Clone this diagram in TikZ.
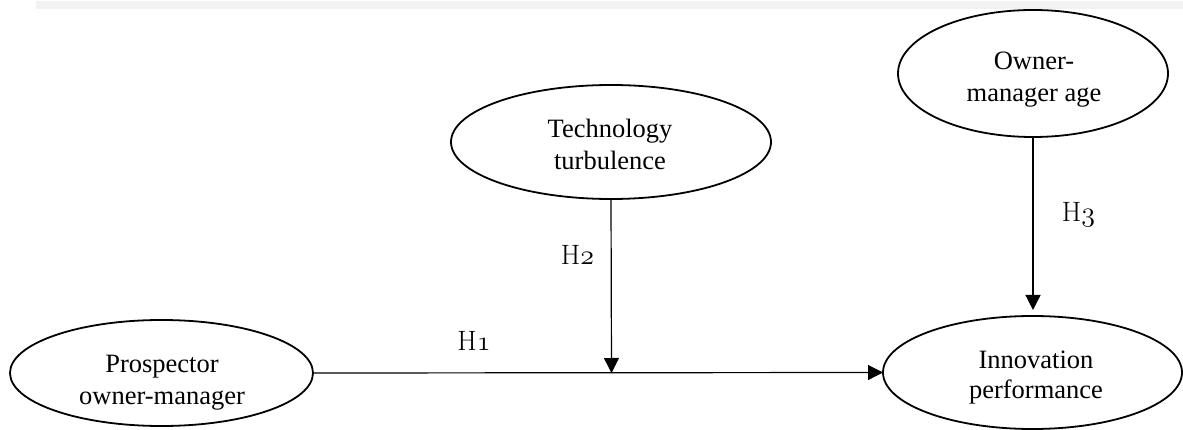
\RequirePackage{fix-cm}
\documentclass[tikz,border=0pt]{standalone}
\usepackage{fontspec}
\newfontfamily\tnrfont{Liberation Serif}
\usetikzlibrary{shapes.geometric,arrows.meta}
\definecolor{bandgray}{HTML}{F2F2F2}
\tikzset{
  oval/.style={ellipse, draw, line width=1.8pt, inner sep=0pt, outer sep=0pt},
  otext/.style={inner sep=0pt, align=center},
  hlabel/.style={font=\fontsize{28}{32}\selectfont, inner sep=0pt, anchor=base},
  link/.style={line width=1.2pt, -{Triangle[length=15pt,width=15pt]}},
}
\begin{document}
\begin{tikzpicture}[x=1pt,y=-1pt]
  \useasboundingbox (0,0) rectangle (1183,430);
  \fill[bandgray] (36,1) rectangle (1183,9);

  % ellipses
  \node[oval, minimum width=303pt, minimum height=106pt] (prosp) at (161.5,373) {};
  \node[oval, minimum width=299pt, minimum height=113pt] (innov) at (1032.5,372.5) {};
  \node[oval, minimum width=320pt, minimum height=114pt] (tech) at (611,142) {};
  \node[oval, minimum width=270pt, minimum height=127pt] (owner) at (1033,73.5) {};

  % ellipse texts
  \node[otext, font=\tnrfont\fontsize{26.5}{32}\selectfont] (prospT) at (162,383) {Prospector\\owner-manager};
  \node[otext, font=\tnrfont\fontsize{26.5}{30}\selectfont] (innovT) at (1036,377.5) {Innovation\\performance};
  \node[otext, font=\tnrfont\fontsize{26.5}{32}\selectfont] (techT) at (610,144) {Technology\\turbulence};
  \node[otext, font=\tnrfont\fontsize{26.5}{32}\selectfont] (ownerT) at (1034,80) {Owner-\\manager age};

  % connectors
  \coordinate (h2end) at (611.5,373);
  \coordinate (h3end) at (1033,310);
  \draw[link] (prosp.east) -- (innov.west);
  \draw[link] (tech.south) -- (h2end);
  \draw[link] (owner.south) -- (h3end);

  % hypothesis labels
  \node[hlabel] (h1) at (474,350) {H$\mathnormal{1}$};
  \node[hlabel] (h2) at (577.5,265) {H$\mathnormal{2}$};
  \node[hlabel] (h3) at (1078.5,222) {H$\mathnormal{3}$};
\end{tikzpicture}
\end{document}
